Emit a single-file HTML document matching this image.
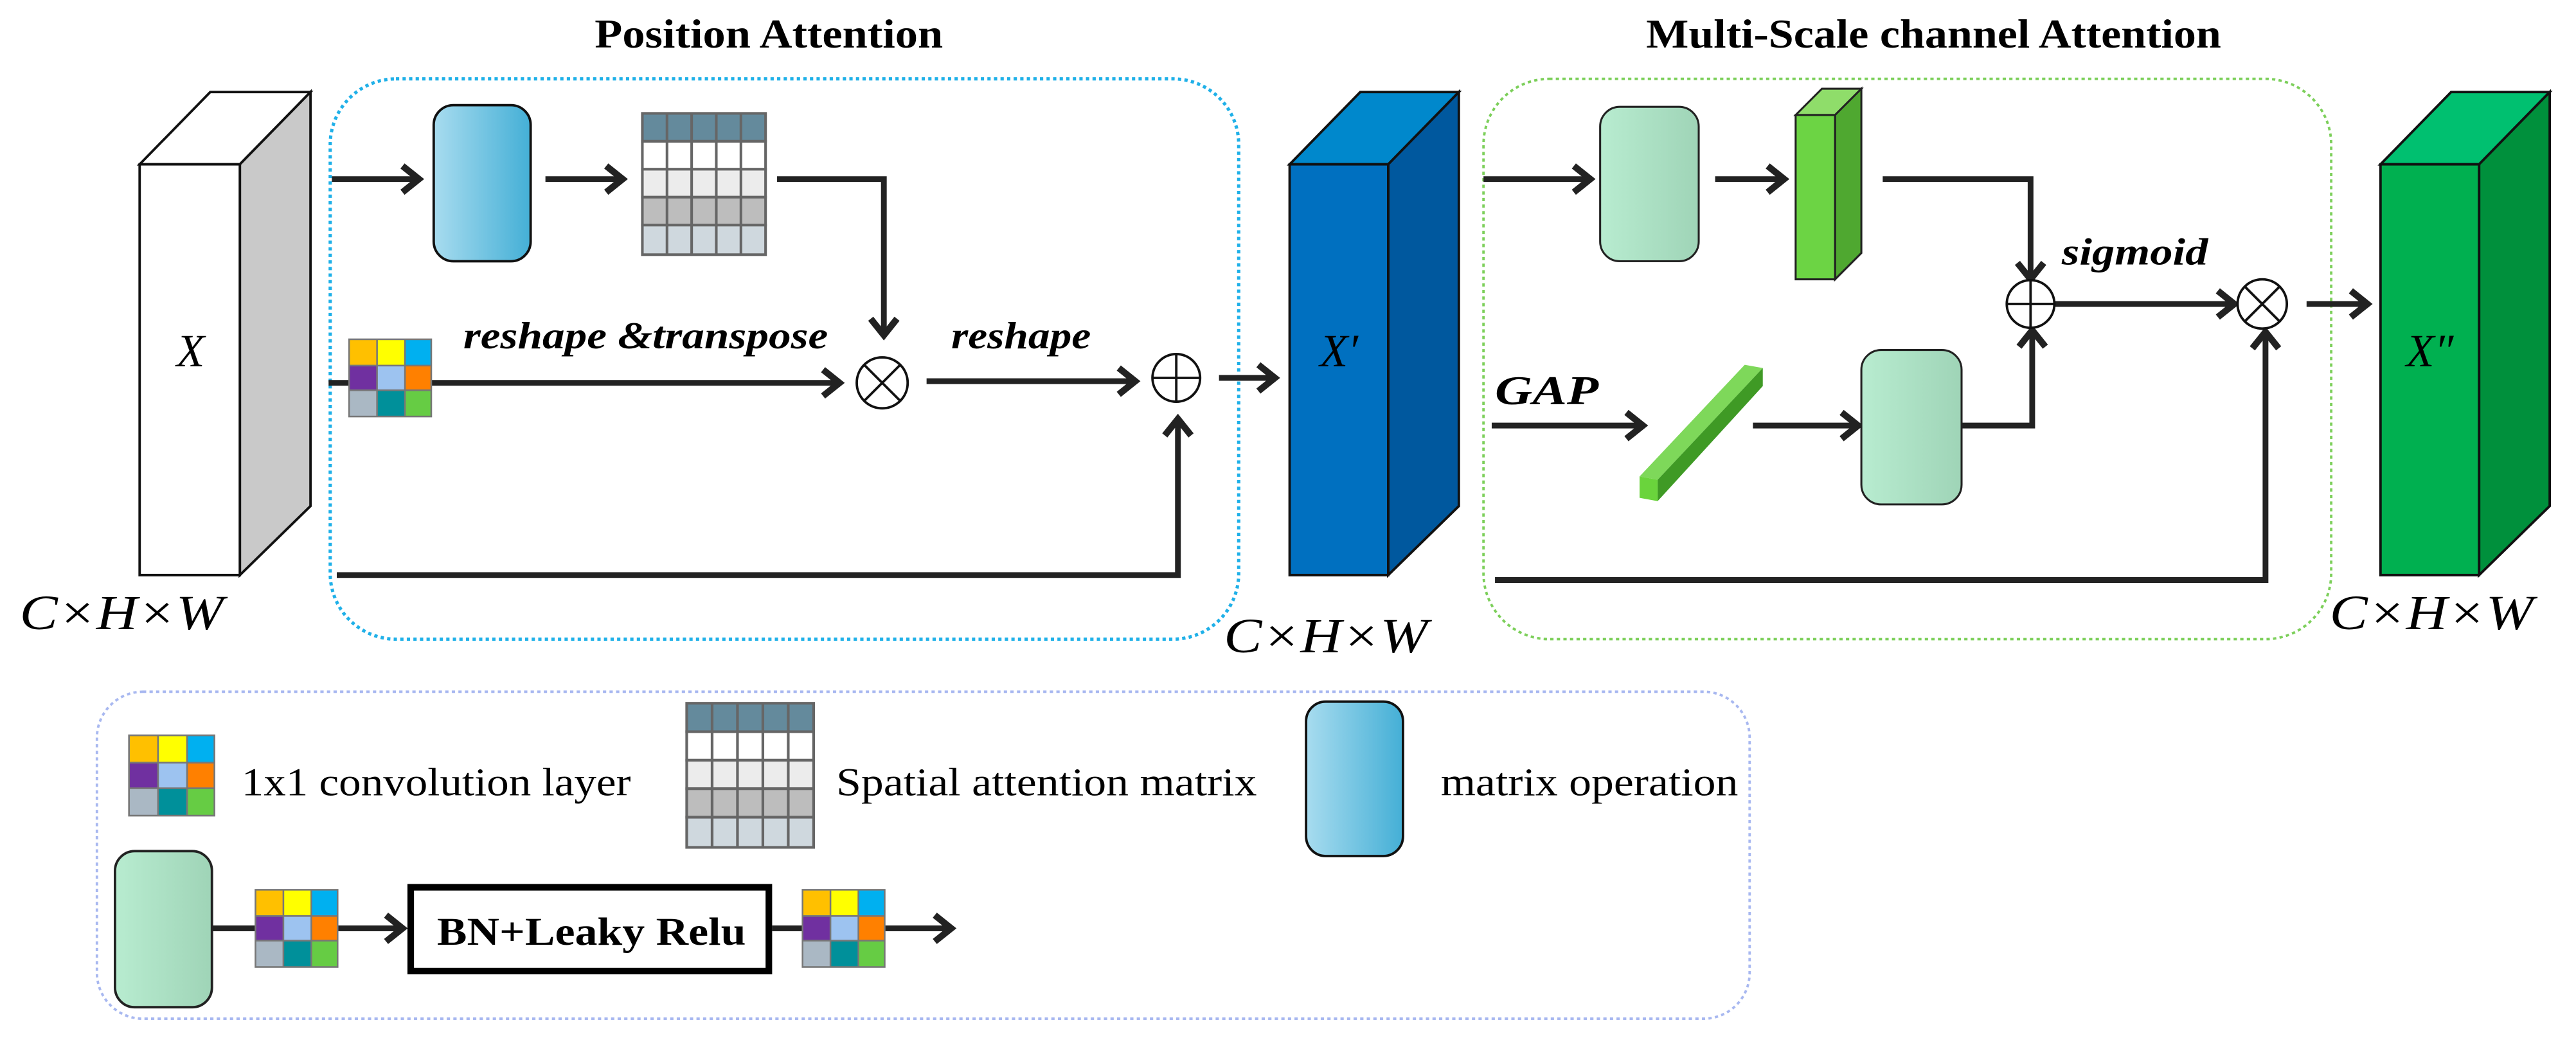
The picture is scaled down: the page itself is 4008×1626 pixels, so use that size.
<!DOCTYPE html>
<html><head><meta charset="utf-8"><style>html,body{margin:0;padding:0;background:#fff}svg{display:block}</style></head><body>
<svg xmlns="http://www.w3.org/2000/svg" width="4008" height="1626" viewBox="0 0 1568 636" preserveAspectRatio="none" font-family="Liberation Serif, serif">
<defs>
<marker id="a" markerUnits="userSpaceOnUse" markerWidth="20" markerHeight="20" refX="14" refY="10" orient="auto"><path d="M4,2 L14,10 L4,18" fill="none" stroke="#222" stroke-width="4"/></marker>
<linearGradient id="bg" x1="0" x2="1"><stop offset="0" stop-color="#a8dcef"/><stop offset="1" stop-color="#44afd6"/></linearGradient>
<linearGradient id="gg" x1="0" x2="1"><stop offset="0" stop-color="#b8ecd0"/><stop offset="1" stop-color="#9fd4b7"/></linearGradient>
<g id="conv">
<rect x="0" y="0" width="51" height="48" fill="#777"/>
<rect x="1" y="1" width="16" height="15" fill="#ffc000"/><rect x="18" y="1" width="16" height="15" fill="#ffff00"/><rect x="35" y="1" width="15" height="15" fill="#00b0f0"/>
<rect x="1" y="17" width="16" height="14" fill="#7030a0"/><rect x="18" y="17" width="16" height="14" fill="#9dc3f0"/><rect x="35" y="17" width="15" height="14" fill="#ff8000"/>
<rect x="1" y="32" width="16" height="15" fill="#aab8c4"/><rect x="18" y="32" width="16" height="15" fill="#00909a"/><rect x="35" y="32" width="15" height="15" fill="#66cc44"/>
</g>
<g id="sam">
<rect x="0" y="0" width="75" height="86" fill="#666"/>
<g stroke="#666" stroke-width="1.6">
<rect x="0" y="0" width="75" height="17" fill="#648a9c"/>
<rect x="0" y="17" width="75" height="17" fill="#fff"/>
<rect x="0" y="34" width="75" height="17" fill="#ececec"/>
<rect x="0" y="51" width="75" height="17" fill="#bdbdbd"/>
<rect x="0" y="68" width="75" height="18" fill="#cfd8de"/>
<path d="M15,0V86M30,0V86M45,0V86M60,0V86"/>
</g>
</g>
</defs>

<text x="362" y="29" font-size="25" font-weight="bold" textLength="212" lengthAdjust="spacingAndGlyphs">Position Attention</text>
<text x="1002" y="29" font-size="25" font-weight="bold" textLength="350" lengthAdjust="spacingAndGlyphs">Multi-Scale channel Attention</text>

<rect x="201" y="48" width="553" height="341" rx="40" fill="none" stroke="#1fb0e8" stroke-width="2" stroke-dasharray="2,2"/>
<rect x="903" y="48" width="516" height="341" rx="40" fill="none" stroke="#7ccf5a" stroke-width="1.5" stroke-dasharray="2,2"/>
<rect x="59" y="421" width="1006" height="199" rx="28" fill="none" stroke="#a8b8f0" stroke-width="1.5" stroke-dasharray="2,2"/>

<g stroke="#111" stroke-width="1.5">
<polygon points="85,100 128,56 189,56 146,100" fill="#fff"/>
<polygon points="146,100 189,56 189,308 146,350" fill="#c9c9c9"/>
<rect x="85" y="100" width="61" height="250" fill="#fff"/>
</g>
<text x="116" y="223" font-size="28" font-style="italic" text-anchor="middle">X</text>
<text x="12" y="383" font-size="30" font-style="italic" textLength="124" lengthAdjust="spacingAndGlyphs">C×H×W</text>

<g stroke="#111" stroke-width="1.5">
<polygon points="785,100 828,56 888,56 845,100" fill="#0088cc"/>
<polygon points="845,100 888,56 888,308 845,350" fill="#00589e"/>
<rect x="785" y="100" width="60" height="250" fill="#0070c0"/>
</g>
<text x="815" y="223" font-size="28" font-style="italic" text-anchor="middle">X′</text>
<text x="745" y="397" font-size="30" font-style="italic" textLength="124" lengthAdjust="spacingAndGlyphs">C×H×W</text>

<g stroke="#111" stroke-width="1.5">
<polygon points="1449,100 1492,56 1552,56 1509,100" fill="#00c070"/>
<polygon points="1509,100 1552,56 1552,308 1509,350" fill="#00903c"/>
<rect x="1449" y="100" width="60" height="250" fill="#00b050"/>
</g>
<text x="1479" y="223" font-size="28" font-style="italic" text-anchor="middle">X″</text>
<text x="1418" y="383" font-size="30" font-style="italic" textLength="124" lengthAdjust="spacingAndGlyphs">C×H×W</text>

<g stroke="#222" stroke-width="3.5" fill="none">
<line x1="202" y1="109" x2="255" y2="109" marker-end="url(#a)"/>
<line x1="332" y1="109" x2="379" y2="109" marker-end="url(#a)"/>
<polyline points="473,109 538,109 538,204" marker-end="url(#a)"/>
<line x1="200" y1="233" x2="511" y2="233" marker-end="url(#a)"/>
<line x1="564" y1="232" x2="691" y2="232" marker-end="url(#a)"/>
<polyline points="205,350 717,350 717,255" marker-end="url(#a)"/>
<line x1="742" y1="230" x2="776" y2="230" marker-end="url(#a)"/>
<line x1="903" y1="109" x2="968" y2="109" marker-end="url(#a)"/>
<line x1="1044" y1="109" x2="1086" y2="109" marker-end="url(#a)"/>
<polyline points="1146,109 1236,109 1236,170" marker-end="url(#a)"/>
<line x1="1251" y1="185" x2="1360" y2="185" marker-end="url(#a)"/>
<line x1="1404" y1="185" x2="1441" y2="185" marker-end="url(#a)"/>
<line x1="908" y1="259" x2="1000" y2="259" marker-end="url(#a)"/>
<line x1="1067" y1="259" x2="1131" y2="259" marker-end="url(#a)"/>
<polyline points="1194,259 1237,259 1237,201" marker-end="url(#a)"/>
<polyline points="910,353 1379,353 1379,202" marker-end="url(#a)"/>
<line x1="129" y1="565" x2="245" y2="565" marker-end="url(#a)"/>
<line x1="470" y1="565" x2="579" y2="565" marker-end="url(#a)"/>
</g>

<rect x="264" y="64" width="59" height="95" rx="12" fill="url(#bg)" stroke="#111" stroke-width="1.5"/>
<use href="#sam" x="391" y="69"/>
<use href="#conv" x="212" y="206"/>
<circle cx="537" cy="233" r="15.5" fill="#fff" stroke="#111" stroke-width="1.5"/>
<path d="M526,222L548,244M548,222L526,244" stroke="#111" stroke-width="1.5"/>
<circle cx="716" cy="230" r="14.5" fill="#fff" stroke="#111" stroke-width="1.5"/>
<path d="M702,230H730M716,216V244" stroke="#111" stroke-width="1.5"/>
<text x="282" y="212" font-size="23" font-style="italic" font-weight="bold" textLength="222" lengthAdjust="spacingAndGlyphs">reshape &amp;transpose</text>
<text x="579" y="212" font-size="23" font-style="italic" font-weight="bold" textLength="85" lengthAdjust="spacingAndGlyphs">reshape</text>

<rect x="974" y="65" width="60" height="94" rx="12" fill="url(#gg)" stroke="#222" stroke-width="1.2"/>
<g stroke="#222" stroke-width="1.2">
<polygon points="1093,70 1109,54 1133,54 1117,70" fill="#8fdd6a"/>
<polygon points="1117,70 1133,54 1133,154 1117,170" fill="#4fa830"/>
<rect x="1093" y="70" width="24" height="100" fill="#6cd444"/>
</g>
<polygon points="998,290 1062,222 1073,224 1009,292" fill="#7ed85a"/>
<polygon points="1009,292 1073,224 1073,235 1009,305" fill="#3f9a25"/>
<polygon points="998,290 1009,292 1009,305 998,303" fill="#6ad43c"/>
<rect x="1133" y="213" width="61" height="94" rx="12" fill="url(#gg)" stroke="#222" stroke-width="1.2"/>
<circle cx="1236" cy="185" r="14.5" fill="#fff" stroke="#111" stroke-width="1.5"/>
<path d="M1222,185H1250M1236,171V199" stroke="#111" stroke-width="1.5"/>
<circle cx="1377" cy="185" r="15" fill="#fff" stroke="#111" stroke-width="1.5"/>
<path d="M1366,174L1388,196M1388,174L1366,196" stroke="#111" stroke-width="1.5"/>
<text x="1255" y="161" font-size="23" font-style="italic" font-weight="bold" textLength="89" lengthAdjust="spacingAndGlyphs">sigmoid</text>
<text x="910" y="246" font-size="25" font-style="italic" font-weight="bold" textLength="63" lengthAdjust="spacingAndGlyphs">GAP</text>

<g transform="translate(78,447) scale(1.04,1.04)"><use href="#conv"/></g>
<text x="147" y="484" font-size="24" textLength="237" lengthAdjust="spacingAndGlyphs">1x1 convolution layer</text>
<g transform="translate(418,428) scale(1.03,1.02)"><use href="#sam"/></g>
<text x="509" y="484" font-size="24" textLength="256" lengthAdjust="spacingAndGlyphs">Spatial attention matrix</text>
<rect x="795" y="427" width="59" height="94" rx="12" fill="url(#bg)" stroke="#111" stroke-width="1.5"/>
<text x="877" y="484" font-size="24" textLength="181" lengthAdjust="spacingAndGlyphs">matrix operation</text>
<rect x="70" y="518" width="59" height="95" rx="12" fill="url(#gg)" stroke="#222" stroke-width="1.5"/>
<use href="#conv" x="155" y="541"/>
<rect x="250" y="540" width="218" height="51" fill="#fff" stroke="#000" stroke-width="4"/>
<text x="266" y="575" font-size="24" font-weight="bold" textLength="188" lengthAdjust="spacingAndGlyphs">BN+Leaky Relu</text>
<use href="#conv" x="488" y="541"/>
</svg>
</body></html>
